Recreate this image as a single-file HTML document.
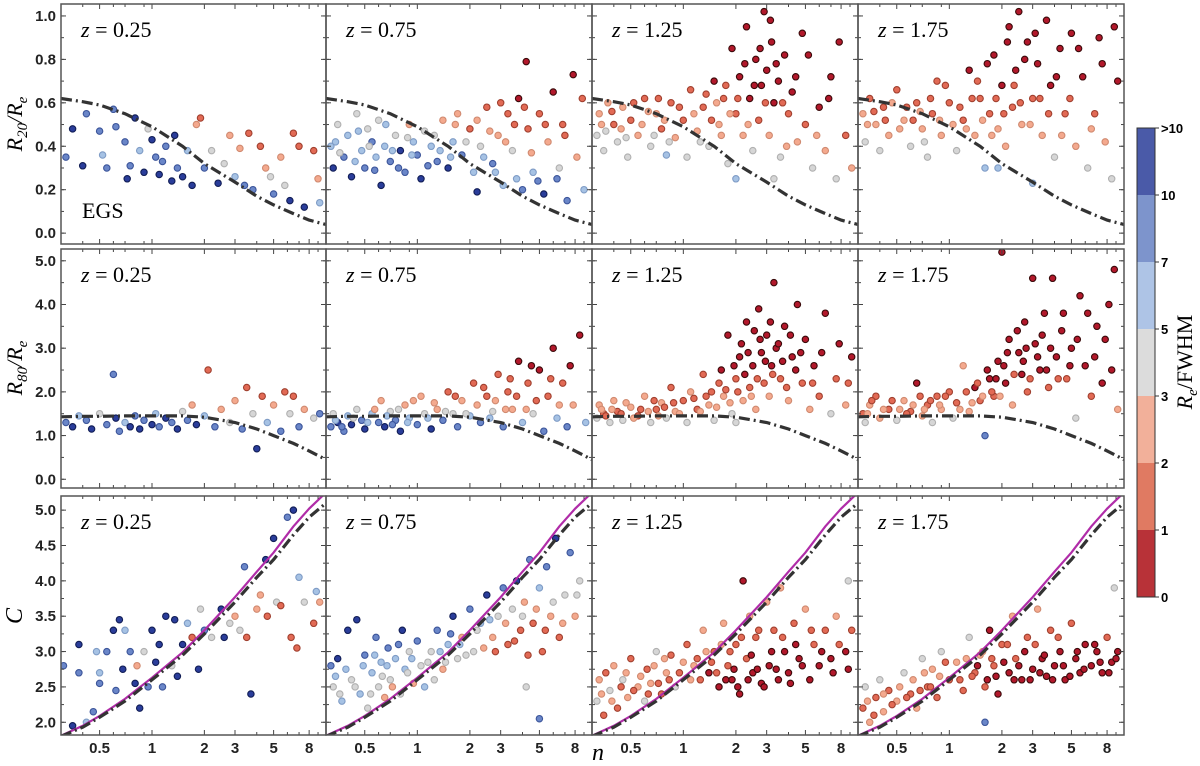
<!DOCTYPE html>
<html><head><meta charset="utf-8"><style>
body{margin:0;background:#fff;}
svg{display:block;font-family:"Liberation Sans",sans-serif;}
.tl{font-size:15px;font-weight:bold;fill:#222;}
.ser{font-family:"Liberation Serif",serif;}
</style></head><body>
<svg id="fig" width="1200" height="766" viewBox="0 0 1200 766"></svg>
<script>
const nTicks=[0.5,1,2,3,5,8];
const tickLabels=['0.5','1','2','3','5','8'];
const zLabels=['0.25','0.75','1.25','1.75'];
const rowYTicks=[[0,0.2,0.4,0.6,0.8,1.0],[0,1,2,3,4,5],[2,2.5,3,3.5,4,4.5,5]];
const rowYTickLabels=[['0.0','0.2','0.4','0.6','0.8','1.0'],['0.0','1.0','2.0','3.0','4.0','5.0'],['2.0','2.5','3.0','3.5','4.0','4.5','5.0']];
const curveN=[0.3,0.4,0.5,0.7,1,1.5,2,3,4,5,6.5,8,10];
const curveR20=[0.62,0.605,0.59,0.55,0.49,0.40,0.32,0.235,0.17,0.13,0.09,0.06,0.04];
const curveR80=[1.43,1.44,1.44,1.45,1.45,1.45,1.42,1.3,1.15,1.0,0.82,0.65,0.45];
const curveC=[1.8,1.93,2.07,2.3,2.6,2.95,3.25,3.7,4.05,4.3,4.65,4.9,5.1];
const curveCmag=[1.81,1.95,2.09,2.33,2.63,2.99,3.3,3.77,4.13,4.4,4.77,5.02,5.25];
const cbarLabels=['>10','10','7','5','3','2','1','0'];
const binColors=['#b2182b','#e26a55','#f4a98e','#d6d6d6','#a6c2e4','#6a86c8','#2a3d9a'];
const cbarColors=['#4a5aa8','#7d94cc','#aec4e6','#dcdcdc','#f2b09a','#e07a62','#b83238'];
const r1c0=[[0.32,0.35,5],[0.35,0.48,6],[0.4,0.31,6],[0.42,0.55,5],[0.5,0.47,5],[0.52,0.36,4],[0.55,0.3,5],[0.6,0.57,5],[0.62,0.49,5],[0.7,0.42,5],[0.72,0.25,6],[0.75,0.31,5],[0.8,0.53,6],[0.85,0.38,4],[0.9,0.28,6],[0.95,0.48,3],[1.0,0.43,6],[1.05,0.35,5],[1.1,0.27,6],[1.15,0.33,5],[1.2,0.4,5],[1.3,0.24,6],[1.35,0.45,6],[1.4,0.3,5],[1.5,0.26,6],[1.6,0.38,4],[1.7,0.22,6],[1.8,0.5,2],[1.9,0.53,1],[2.0,0.3,5],[2.2,0.38,3],[2.4,0.23,6],[2.6,0.32,3],[2.8,0.45,2],[3.0,0.26,4],[3.2,0.39,2],[3.4,0.22,5],[3.6,0.46,1],[3.8,0.2,5],[4.2,0.4,1],[4.5,0.3,2],[4.8,0.26,3],[5.0,0.18,5],[5.5,0.35,2],[5.8,0.22,3],[6.2,0.15,6],[6.5,0.46,1],[7.0,0.4,1],[7.5,0.12,6],[8.5,0.38,1],[9,0.25,2],[9.2,0.14,4]];
const r1c1=[[0.32,0.4,4],[0.33,0.3,6],[0.35,0.5,3],[0.38,0.35,5],[0.4,0.45,4],[0.42,0.26,6],[0.45,0.55,3],[0.48,0.38,4],[0.5,0.3,5],[0.52,0.48,3],[0.55,0.42,5],[0.58,0.35,4],[0.6,0.52,3],[0.62,0.22,6],[0.65,0.4,4],[0.7,0.33,5],[0.75,0.45,3],[0.8,0.38,6],[0.85,0.28,5],[0.9,0.5,2],[0.95,0.42,4],[1.0,0.36,5],[1.05,0.25,6],[1.1,0.47,3],[1.2,0.4,4],[1.3,0.33,5],[1.4,0.52,2],[1.5,0.3,6],[1.6,0.42,4],[1.7,0.55,2],[1.8,0.36,5],[2.0,0.48,1],[2.1,0.28,4],[2.3,0.4,3],[2.5,0.58,1],[2.7,0.32,5],[2.9,0.45,2],[3.1,0.22,4],[3.3,0.55,1],[3.5,0.38,3],[3.8,0.62,0],[4.0,0.2,5],[4.3,0.48,1],[4.6,0.28,4],[5.0,0.55,1],[5.3,0.18,6],[5.6,0.42,2],[6.0,0.65,0],[6.3,0.25,5],[6.8,0.5,1],[7.2,0.15,5],[7.8,0.73,0],[8.2,0.35,2],[9,0.2,4],[4.2,0.79,0],[2.2,0.19,6]];
const r1c1b=[[0.34,0.42,4],[0.36,0.37,3],[0.44,0.33,4],[0.46,0.47,4],[0.53,0.4,3],[0.57,0.29,5],[0.66,0.5,4],[0.72,0.38,4],[0.78,0.3,5],[0.88,0.44,3],[0.93,0.36,4],[1.15,0.31,5],[1.25,0.45,3],[1.35,0.38,4],[1.55,0.35,4],[1.65,0.5,2],[1.9,0.42,3],[2.2,0.52,2],[2.4,0.35,4],[2.6,0.47,2],[2.8,0.28,4],[3.0,0.6,1],[3.2,0.42,2],[3.6,0.5,1],[3.7,0.25,4],[4.1,0.58,1],[4.5,0.37,2],[4.9,0.24,5],[5.4,0.5,1],[6.5,0.3,3],[7,0.45,1],[8.8,0.62,1]];
const r1c2=[[0.32,0.45,3],[0.33,0.55,2],[0.35,0.38,3],[0.37,0.6,2],[0.4,0.5,1],[0.42,0.42,3],[0.45,0.58,2],[0.48,0.35,3],[0.5,0.52,1],[0.55,0.45,2],[0.6,0.62,1],[0.65,0.4,3],[0.7,0.55,2],[0.75,0.48,1],[0.8,0.36,4],[0.85,0.6,1],[0.9,0.44,2],[1.0,0.52,1],[1.05,0.35,3],[1.1,0.66,1],[1.2,0.47,2],[1.3,0.58,1],[1.4,0.4,3],[1.5,0.7,0],[1.6,0.5,2],[1.7,0.62,1],[1.8,0.32,3],[1.9,0.85,0],[2.0,0.55,1],[2.1,0.72,0],[2.2,0.45,2],[2.3,0.95,0],[2.4,0.62,0],[2.5,0.38,3],[2.6,0.8,0],[2.7,0.52,1],[2.8,0.68,0],[2.9,1.02,0],[3.0,0.75,0],[3.1,0.45,2],[3.2,0.88,0],[3.3,0.6,0],[3.5,0.7,0],[3.6,0.35,3],[3.8,0.82,0],[4.0,0.55,1],[4.2,0.65,0],[4.5,0.42,2],[4.8,0.92,0],[5.0,0.5,1],[5.5,0.3,3],[6.0,0.58,0],[6.5,0.38,2],[7.0,0.72,0],[7.5,0.25,3],[8.5,0.45,1],[9.2,0.3,2],[2.0,0.25,4],[3.3,0.25,3]];
const r1c2b=[[0.34,0.5,2],[0.36,0.47,3],[0.39,0.56,1],[0.44,0.48,2],[0.47,0.44,3],[0.52,0.6,1],[0.58,0.5,2],[0.63,0.56,2],[0.68,0.45,3],[0.72,0.62,1],[0.78,0.52,2],[0.83,0.42,3],[0.95,0.58,1],[1.15,0.55,2],[1.25,0.42,3],[1.35,0.64,1],[1.45,0.52,1],[1.55,0.6,2],[1.65,0.45,2],[1.75,0.68,1],[1.85,0.55,2],[2.05,0.62,1],[2.25,0.78,0],[2.35,0.5,2],[2.55,0.68,0],[2.75,0.85,0],[2.95,0.6,1],[3.15,0.98,0],[3.4,0.78,0],[3.7,0.6,1],[3.9,0.4,2],[4.4,0.72,0],[5.2,0.82,0],[5.8,0.45,2],[6.8,0.62,0],[7.8,0.88,0]];
const r1c3=[[0.32,0.55,2],[0.33,0.42,3],[0.35,0.62,1],[0.38,0.5,2],[0.4,0.38,3],[0.42,0.58,1],[0.45,0.45,2],[0.5,0.66,1],[0.55,0.52,2],[0.6,0.4,3],[0.65,0.6,1],[0.7,0.48,2],[0.75,0.35,3],[0.8,0.55,1],[0.85,0.7,1],[0.9,0.45,2],[1.0,0.6,1],[1.1,0.38,3],[1.2,0.52,1],[1.3,0.75,0],[1.4,0.45,2],[1.5,0.62,1],[1.6,0.3,4],[1.7,0.55,1],[1.8,0.82,0],[1.9,0.48,2],[2.0,0.68,0],[2.1,0.4,2],[2.2,0.95,0],[2.3,0.58,1],[2.4,0.75,0],[2.5,1.02,0],[2.6,0.5,2],[2.8,0.88,0],[3.0,0.62,1],[3.2,0.78,0],[3.4,0.45,2],[3.6,0.98,0],[3.8,0.68,0],[4.0,0.35,3],[4.3,0.85,0],[4.6,0.55,1],[5.0,0.92,0],[5.3,0.4,2],[5.8,0.72,0],[6.2,0.3,3],[6.8,0.55,1],[7.2,0.9,0],[7.8,0.42,2],[8.5,0.25,3],[9.2,0.7,0],[3.0,0.23,4],[1.9,0.3,4]];
const r1c3b=[[0.34,0.5,2],[0.37,0.56,1],[0.43,0.52,1],[0.47,0.6,2],[0.52,0.48,2],[0.57,0.58,1],[0.62,0.52,1],[0.68,0.56,2],[0.72,0.42,3],[0.78,0.62,1],[0.88,0.52,2],[0.95,0.68,1],[1.05,0.5,2],[1.15,0.58,1],[1.25,0.48,2],[1.35,0.62,1],[1.45,0.7,1],[1.55,0.52,2],[1.65,0.78,0],[1.75,0.45,2],[1.85,0.62,1],[2.05,0.55,1],[2.15,0.88,0],[2.35,0.68,1],[2.55,0.6,1],[2.7,0.8,0],[2.9,0.5,2],[3.1,0.92,0],[3.3,0.62,1],[3.7,0.55,1],[4.1,0.72,0],[4.4,0.45,2],[4.9,0.62,1],[5.5,0.85,0],[6.5,0.48,2],[7.5,0.78,0],[8.8,0.95,0]];
const r2c0=[[0.32,1.3,5],[0.35,1.2,6],[0.38,1.45,4],[0.42,1.35,5],[0.45,1.15,6],[0.5,1.5,3],[0.55,1.25,5],[0.6,2.4,5],[0.62,1.4,6],[0.65,1.1,5],[0.7,1.3,4],[0.75,1.2,6],[0.8,1.45,5],[0.85,1.15,6],[0.9,1.35,5],[1.0,1.25,6],[1.05,1.5,4],[1.1,1.2,5],[1.2,1.4,6],[1.3,1.3,5],[1.4,1.15,6],[1.5,1.55,3],[1.6,1.35,5],[1.7,1.7,2],[1.8,1.25,6],[2.0,1.45,4],[2.1,2.5,1],[2.3,1.2,5],[2.5,1.6,2],[2.8,1.3,3],[3.0,1.8,2],[3.3,1.15,5],[3.5,2.1,1],[3.8,1.5,3],[4.0,0.7,6],[4.3,1.9,1],[4.6,1.3,4],[5.0,1.7,2],[5.5,1.1,5],[5.8,2.0,1],[6.2,1.5,3],[6.5,1.9,1],[7.0,1.2,5],[7.5,1.6,2],[8.5,1.4,3],[9.2,1.5,5]];
const r2c1=[[0.32,1.2,5],[0.33,1.5,3],[0.35,1.3,6],[0.38,1.1,5],[0.4,1.45,4],[0.42,1.25,6],[0.45,1.6,3],[0.48,1.35,5],[0.5,1.15,6],[0.55,1.5,4],[0.6,1.3,5],[0.62,1.8,2],[0.65,1.2,6],[0.7,1.55,3],[0.75,1.35,5],[0.8,1.1,6],[0.85,1.7,2],[0.9,1.4,4],[1.0,1.25,5],[1.05,1.9,2],[1.1,1.5,3],[1.2,1.15,6],[1.3,1.6,2],[1.4,1.35,5],[1.5,2.0,1],[1.6,1.5,3],[1.7,1.2,5],[1.8,1.8,2],[2.0,1.45,4],[2.1,2.2,1],[2.3,1.3,5],[2.5,1.9,1],[2.7,1.55,3],[2.9,2.4,1],[3.1,1.2,5],[3.3,2.0,1],[3.5,1.6,2],[3.8,2.7,0],[4.0,1.3,4],[4.3,2.2,1],[4.6,1.5,3],[5.0,2.5,0],[5.3,1.1,5],[5.6,1.9,1],[6.0,3.0,0],[6.3,1.4,4],[6.8,2.2,1],[7.2,1.2,5],[7.8,1.7,2],[8.5,3.3,0],[9.2,1.3,4]];
const r2c1b=[[0.34,1.35,4],[0.37,1.2,5],[0.43,1.4,3],[0.52,1.3,4],[0.57,1.6,2],[0.67,1.45,4],[0.72,1.25,5],[0.78,1.6,3],[0.88,1.3,4],[0.95,1.8,2],[1.15,1.4,4],[1.25,1.75,2],[1.45,1.55,3],[1.65,1.9,1],[1.9,1.5,3],[2.2,1.7,2],[2.4,2.1,1],[2.6,1.4,4],[2.8,1.8,2],[3.2,1.6,2],[3.4,2.3,1],[3.7,1.9,1],[4.2,1.6,2],[4.5,2.6,0],[4.8,1.8,1],[5.8,2.3,1],[6.5,1.7,2],[7.5,2.6,0]];
const r2c2=[[0.32,1.4,3],[0.33,1.7,2],[0.35,1.5,1],[0.38,1.3,3],[0.4,1.8,2],[0.42,1.55,1],[0.45,1.35,3],[0.5,1.65,2],[0.55,1.45,1],[0.6,1.9,2],[0.65,1.3,3],[0.7,1.6,1],[0.75,1.75,2],[0.8,1.4,3],[0.85,2.1,1],[0.9,1.55,2],[1.0,1.8,1],[1.05,1.3,3],[1.1,2.0,2],[1.2,1.6,1],[1.3,2.4,1],[1.4,1.7,2],[1.5,1.35,3],[1.6,2.2,1],[1.7,1.9,2],[1.8,3.3,0],[1.9,1.5,3],[2.0,2.3,1],[2.1,2.8,0],[2.2,1.8,2],[2.3,3.6,0],[2.4,2.1,1],[2.5,2.6,0],[2.6,1.6,2],[2.7,3.9,0],[2.8,2.9,0],[2.9,2.2,1],[3.0,3.3,0],[3.1,1.9,2],[3.2,2.6,0],[3.3,4.5,0],[3.4,3.0,0],[3.6,2.3,1],[3.8,3.5,0],[4.0,1.8,2],[4.2,2.8,0],[4.5,4.0,0],[4.8,2.2,1],[5.0,3.2,0],[5.3,1.6,2],[5.6,2.6,0],[6.0,1.9,1],[6.5,3.8,0],[7.0,1.5,3],[7.5,2.3,1],[8.5,1.7,2],[9.2,2.8,0],[2.0,1.3,3]];
const r2c2b=[[0.34,1.6,2],[0.36,1.45,1],[0.39,1.6,2],[0.44,1.5,1],[0.47,1.75,2],[0.52,1.4,2],[0.57,1.6,1],[0.63,1.55,2],[0.68,1.8,1],[0.72,1.45,2],[0.78,1.65,1],[0.88,1.75,1],[0.95,1.5,2],[1.15,1.85,1],[1.25,1.55,2],[1.35,1.9,1],[1.45,2.0,1],[1.55,1.65,2],[1.65,2.5,0],[1.75,2.05,1],[1.85,1.75,2],[1.95,2.6,0],[2.05,2.0,1],[2.15,3.1,0],[2.25,2.4,0],[2.35,2.9,0],[2.45,1.9,2],[2.55,3.4,0],[2.65,2.3,1],[2.75,3.2,0],[2.95,2.7,0],[3.15,3.6,0],[3.25,2.4,1],[3.5,3.1,0],[3.7,2.7,0],[3.9,2.1,1],[4.1,3.3,0],[4.4,2.5,0],[4.7,2.9,0],[5.5,2.2,1],[6.2,2.9,0],[7.8,3.1,0],[8.8,2.2,1]];
const r2c3=[[0.32,1.5,1],[0.33,1.3,3],[0.35,1.7,2],[0.38,1.9,1],[0.4,1.4,2],[0.45,1.6,1],[0.5,1.35,3],[0.55,1.8,2],[0.6,1.55,1],[0.65,2.2,0],[0.7,1.45,2],[0.75,1.7,1],[0.8,1.3,3],[0.85,1.9,1],[0.9,1.6,2],[1.0,2.0,1],[1.05,1.4,3],[1.1,1.75,1],[1.2,2.6,2],[1.3,1.55,2],[1.4,2.1,0],[1.5,1.8,1],[1.6,1.0,5],[1.7,2.3,0],[1.8,1.9,1],[1.9,2.7,0],[2.0,5.2,0],[2.1,2.2,0],[2.2,3.2,0],[2.3,1.7,2],[2.5,2.9,0],[2.6,2.4,0],[2.7,3.6,0],[2.8,2.0,1],[3.0,4.6,0],[3.1,3.1,0],[3.3,2.5,0],[3.5,3.8,0],[3.7,2.1,1],[3.9,4.6,0],[4.1,2.8,0],[4.4,3.4,0],[4.7,2.3,1],[5.0,3.0,0],[5.3,1.4,3],[5.6,4.2,0],[6.0,2.6,0],[6.5,1.9,1],[7.0,3.5,0],[7.5,2.2,0],[8.2,4.0,0],[8.8,4.8,0],[9.2,1.6,2]];
const r2c3b=[[0.34,1.5,2],[0.36,1.8,1],[0.42,1.6,2],[0.47,1.8,1],[0.52,1.6,2],[0.57,1.5,1],[0.62,1.7,2],[0.68,1.9,1],[0.72,1.6,2],[0.78,1.8,1],[0.88,1.7,2],[0.95,1.9,1],[1.15,1.6,2],[1.25,2.0,1],[1.35,1.75,2],[1.45,2.2,1],[1.55,1.9,2],[1.65,2.5,0],[1.75,2.0,1],[1.85,2.3,0],[1.95,1.9,2],[2.05,2.6,0],[2.15,2.9,0],[2.35,2.4,1],[2.45,3.4,0],[2.65,2.7,0],[2.75,3.0,0],[2.9,2.3,1],[3.2,2.8,0],[3.4,3.3,0],[3.6,2.5,0],[3.8,3.0,0],[4.2,2.3,1],[4.5,3.8,0],[4.9,2.6,0],[5.4,3.2,0],[6.2,3.8,0],[6.8,2.8,0],[7.8,3.2,0],[8.5,2.5,0]];
const r3c0=[[0.31,2.8,5],[0.35,1.95,6],[0.38,3.1,6],[0.38,2.7,5],[0.42,2.0,4],[0.46,2.15,5],[0.48,3.0,4],[0.5,2.7,4],[0.5,2.55,5],[0.55,3.0,5],[0.6,3.3,6],[0.62,2.45,5],[0.65,3.45,6],[0.68,2.75,6],[0.7,3.3,4],[0.75,3.0,5],[0.8,2.55,6],[0.82,2.8,2],[0.85,2.2,6],[0.9,3.0,3],[0.95,2.5,5],[1.0,3.3,6],[1.05,2.85,6],[1.1,3.1,6],[1.15,2.5,5],[1.2,3.5,6],[1.3,2.8,3],[1.35,3.45,6],[1.4,2.65,6],[1.5,3.1,6],[1.6,3.4,4],[1.7,3.2,1],[1.85,2.75,6],[1.9,3.6,3],[2.0,3.3,5],[2.2,3.2,3],[2.5,3.6,6],[2.6,3.2,6],[2.8,3.4,3],[3.0,3.5,2],[3.2,3.3,3],[3.4,4.2,5],[3.5,3.2,1],[3.7,2.4,6],[4.0,3.6,2],[4.2,3.8,2],[4.5,4.3,6],[4.6,3.5,1],[5.0,4.6,6],[5.2,3.7,3],[5.5,3.65,1],[6.0,4.9,5],[6.3,3.2,1],[6.5,5.0,6],[6.8,3.05,1],[7.0,4.05,4],[7.5,3.7,3],[8.5,3.4,1],[8.8,3.85,4],[9.2,3.7,2]];
const r3c1=[[0.32,2.8,5],[0.33,2.5,3],[0.35,2.9,6],[0.37,2.3,4],[0.4,3.3,6],[0.42,2.6,3],[0.45,3.45,6],[0.47,2.4,4],[0.5,2.95,5],[0.52,2.2,3],[0.55,2.7,4],[0.58,3.2,5],[0.6,2.5,3],[0.62,2.85,4],[0.65,2.35,2],[0.68,3.05,5],[0.7,2.6,3],[0.75,2.9,4],[0.8,2.4,3],[0.82,3.3,6],[0.85,2.75,4],[0.9,3.0,3],[0.95,2.55,2],[1.0,3.15,5],[1.05,2.8,3],[1.1,2.5,4],[1.2,3.0,3],[1.3,3.3,5],[1.4,2.75,2],[1.5,3.1,4],[1.6,3.5,6],[1.7,2.9,3],[1.8,3.2,2],[2.0,3.6,5],[2.1,3.0,3],[2.3,3.4,4],[2.5,3.8,6],[2.7,3.2,2],[2.9,3.5,3],[3.1,3.9,5],[3.3,3.1,1],[3.5,3.6,3],[3.7,4.0,6],[3.9,3.3,1],[4.1,3.7,2],[4.4,4.3,5],[4.6,3.4,1],[5.0,3.9,4],[5.2,3.0,1],[5.5,4.2,5],[5.8,3.5,2],[6.2,4.6,6],[6.5,3.2,1],[7.0,3.8,3],[7.5,4.4,5],[8.0,3.5,2],[8.5,4.0,3],[5.0,2.05,5],[4.2,2.5,3]];
const r3c1b=[[0.34,2.65,4],[0.36,2.4,3],[0.39,2.75,4],[0.44,2.5,3],[0.49,2.8,4],[0.54,2.4,3],[0.57,2.95,4],[0.63,2.65,3],[0.67,2.8,4],[0.72,2.5,2],[0.78,3.1,5],[0.88,2.7,3],[0.93,2.9,4],[1.15,2.85,3],[1.25,2.6,3],[1.35,3.0,4],[1.45,2.85,3],[1.55,3.25,5],[1.75,3.1,4],[1.9,2.95,3],[2.2,3.3,3],[2.4,3.05,2],[2.6,3.45,4],[2.8,3.0,1],[3.2,3.4,2],[3.6,3.15,1],[4.0,3.5,3],[4.3,2.95,1],[4.8,3.6,2],[5.4,3.3,1],[6.0,3.7,3],[6.8,3.4,2],[8.2,3.8,3]];
const r3c2=[[0.32,2.3,3],[0.33,2.6,2],[0.35,2.1,1],[0.38,2.45,3],[0.4,2.8,2],[0.42,2.2,1],[0.45,2.6,3],[0.48,2.35,2],[0.5,2.9,1],[0.55,2.5,2],[0.6,2.3,3],[0.62,2.75,1],[0.65,2.55,2],[0.7,3.0,3],[0.75,2.4,1],[0.8,2.7,2],[0.85,2.95,1],[0.9,2.5,3],[1.0,2.85,2],[1.05,3.1,1],[1.1,2.6,2],[1.2,2.9,1],[1.3,3.3,2],[1.4,2.7,0],[1.5,3.0,1],[1.6,2.5,0],[1.7,3.4,2],[1.8,2.8,1],[1.9,2.6,0],[2.0,3.1,1],[2.1,2.4,0],[2.2,4.0,0],[2.3,2.9,1],[2.4,3.5,2],[2.5,2.7,0],[2.6,3.2,1],[2.8,2.55,0],[3.0,3.7,2],[3.1,2.8,0],[3.3,3.3,1],[3.5,2.6,0],[3.6,3.9,2],[3.8,3.0,0],[4.0,2.7,0],[4.3,3.4,1],[4.6,2.9,0],[5.0,3.6,2],[5.3,2.6,0],[5.6,3.1,1],[6.0,2.8,0],[6.5,3.3,1],[7.0,2.9,0],[7.5,3.5,2],[8.5,3.0,0],[9.2,3.3,1],[8.8,4.0,3]];
const r3c2b=[[0.34,2.4,2],[0.36,2.7,1],[0.39,2.3,2],[0.44,2.5,1],[0.47,2.7,2],[0.52,2.45,1],[0.57,2.65,2],[0.63,2.4,1],[0.68,2.8,2],[0.72,2.55,1],[0.78,2.9,2],[0.83,2.6,1],[0.95,2.7,1],[1.15,2.8,2],[1.25,2.6,1],[1.35,3.0,2],[1.45,2.85,1],[1.55,2.7,1],[1.65,3.1,2],[1.75,2.6,0],[1.85,3.0,1],[1.95,2.75,0],[2.05,2.5,0],[2.15,3.2,1],[2.35,2.6,0],[2.45,2.95,0],[2.65,2.75,0],[2.7,3.3,1],[2.9,2.5,0],[3.2,3.0,0],[3.4,2.75,0],[3.7,3.2,1],[4.1,2.55,0],[4.4,3.1,0],[4.8,2.8,0],[5.4,3.3,1],[6.2,3.0,0],[7.2,2.7,0],[7.8,3.1,1],[8.8,2.75,0]];
const r3c3=[[0.32,2.2,1],[0.33,2.5,3],[0.35,2.0,2],[0.38,2.35,1],[0.4,2.6,3],[0.42,2.15,2],[0.45,2.45,1],[0.5,2.3,2],[0.55,2.7,3],[0.6,2.4,1],[0.65,2.2,2],[0.7,2.9,3],[0.75,2.5,1],[0.8,2.75,2],[0.85,2.35,1],[0.9,3.0,3],[1.0,2.6,1],[1.1,2.85,2],[1.2,2.45,1],[1.3,3.2,3],[1.4,2.7,1],[1.5,2.95,2],[1.6,2.5,1],[1.7,3.3,0],[1.8,2.8,1],[1.9,2.4,0],[2.0,3.1,1],[2.2,2.7,0],[2.3,3.5,2],[2.4,2.9,1],[2.6,2.6,0],[2.8,3.2,1],[3.0,2.75,0],[3.2,3.6,2],[3.4,2.9,0],[3.6,2.65,0],[3.8,3.3,1],[4.0,2.8,0],[4.3,3.0,0],[4.6,2.6,0],[5.0,3.4,1],[5.3,2.9,0],[5.6,2.7,0],[6.0,3.1,0],[6.5,2.8,0],[7.0,3.0,0],[7.5,2.7,0],[8.0,3.2,1],[8.5,2.85,0],[9.2,3.0,0],[8.8,3.9,3],[1.6,2.0,5]];
const r3c3b=[[0.34,2.3,2],[0.37,2.1,1],[0.42,2.4,2],[0.47,2.25,1],[0.52,2.5,2],[0.57,2.35,1],[0.62,2.6,2],[0.68,2.45,1],[0.72,2.7,2],[0.78,2.5,1],[0.88,2.65,2],[0.95,2.85,1],[1.15,2.6,1],[1.25,2.9,2],[1.35,2.65,1],[1.45,2.8,0],[1.55,3.0,2],[1.65,2.6,0],[1.75,2.9,1],[1.85,2.65,0],[2.05,2.85,0],[2.15,3.1,1],[2.35,2.6,0],[2.5,2.8,0],[2.7,3.0,0],[2.9,2.6,0],[3.1,3.1,1],[3.3,2.7,0],[3.5,2.95,0],[3.9,2.6,0],[4.2,3.2,1],[4.5,2.8,0],[4.9,2.65,0],[5.4,3.0,0],[5.9,2.75,0],[6.8,3.1,0],[7.3,2.85,0],[8.2,2.7,0],[9,2.9,0]];
const panelData=[[r1c0,r1c1.concat(r1c1b),r1c2.concat(r1c2b),r1c3.concat(r1c3b)],[r2c0,r2c1.concat(r2c1b),r2c2.concat(r2c2b),r2c3.concat(r2c3b)],[r3c0,r3c1.concat(r3c1b),r3c2.concat(r3c2b),r3c3.concat(r3c3b)]];

const NS='http://www.w3.org/2000/svg';
const svg=document.getElementById('fig');
function mk(tag,attrs,parent){const e=document.createElementNS(NS,tag);for(const k in attrs)e.setAttribute(k,attrs[k]);(parent||svg).appendChild(e);return e;}
const colX=[61,326,592,858,1124];
const rowY=[[4,244],[249,488],[496,735]];
const yDom=[[-0.05,1.055],[-0.2,5.27],[1.82,5.2]];
const xMin=Math.log10(0.3),xMax=Math.log10(10);
function xs(c,n){return colX[c]+(Math.log10(n)-xMin)/(xMax-xMin)*(colX[c+1]-colX[c]);}
function ys(r,v){const [t,b]=rowY[r],[lo,hi]=yDom[r];return b-(v-lo)/(hi-lo)*(b-t);}
const darkEdge=['#3a0a0a','#a0402f','#d08a70','#b0b0b0','#7f9cc6','#3c559a','#111d55'];
const minorN=[0.3,0.4,0.6,0.7,0.9,4,6,7,9];
const yMinorStep=[0.1,0.5,0.25];

for(let r=0;r<3;r++){
  for(let c=0;c<4;c++){
    const g=mk('g',{});
    
    
    const L=colX[c],R=colX[c+1],T=rowY[r][0],B=rowY[r][1];
    const cid='clip'+r+c;
    const cp=mk('clipPath',{id:cid},g);mk('rect',{x:L,y:T,width:R-L,height:B-T},cp);
    const pts=mk('g',{'clip-path':'url(#'+cid+')'},g);
    
    
    panelData[r][c].forEach(p=>{
      const ci=mk('circle',{cx:xs(c,p[0]).toFixed(1),cy:ys(r,p[1]).toFixed(1),r:3.2,fill:binColors[p[2]],stroke:darkEdge[p[2]],'stroke-width':1.1},pts);
      
      
    });
    const curve=[curveR20,curveR80,curveC][r];
    const d=curveN.map((n,i)=>(i?'L':'M')+xs(c,n).toFixed(1)+','+ys(r,curve[i]).toFixed(1)).join(' ');
    if(r===2){
      const dm=curveN.map((n,i)=>(i?'L':'M')+xs(c,n).toFixed(1)+','+ys(r,curveCmag[i]).toFixed(1)).join(' ');
      const m=mk('path',{d:dm,fill:'none',stroke:'#b02ca8','stroke-width':2.2},pts);
      
      
    }
    const ln=mk('path',{d:d,fill:'none',stroke:'#333','stroke-width':3.2,'stroke-dasharray':'11,4,2,4'},pts);
    
    
    const tk=mk('g',{stroke:'#444','stroke-width':1},g);
    nTicks.forEach(n=>{const x=xs(c,n);mk('line',{x1:x,y1:B,x2:x,y2:B-5},tk);mk('line',{x1:x,y1:T,x2:x,y2:T+5},tk);});
    minorN.forEach(n=>{const x=xs(c,n);mk('line',{x1:x,y1:B,x2:x,y2:B-3},tk);mk('line',{x1:x,y1:T,x2:x,y2:T+3},tk);});
    const [lo,hi]=yDom[r];
    for(let v=Math.ceil(lo/yMinorStep[r])*yMinorStep[r];v<=hi;v+=yMinorStep[r]){const y=ys(r,v);mk('line',{x1:L,y1:y,x2:L+3,y2:y},tk);mk('line',{x1:R,y1:y,x2:R-3,y2:y},tk);}
    rowYTicks[r].forEach(v=>{const y=ys(r,v);mk('line',{x1:L,y1:y,x2:L+5,y2:y},tk);mk('line',{x1:R,y1:y,x2:R-5,y2:y},tk);});
    const fr=mk('rect',{x:L,y:T,width:R-L,height:B-T,fill:'none',stroke:'#555','stroke-width':1.5},g);
    
    
    const zt=mk('text',{x:L+20,y:T+33,'font-size':22,class:'ser'},g);
    zt.innerHTML='<tspan font-style="italic">z</tspan> = '+zLabels[c];
    
    
    if(c===0){
      rowYTicks[r].forEach((v,i)=>{const t=mk('text',{x:L-5,y:ys(r,v)+5,'text-anchor':'end',class:'tl'},g);t.textContent=rowYTickLabels[r][i];
        
        });
    }
    if(r===2){
      nTicks.forEach((n,i)=>{const t=mk('text',{x:xs(c,n),y:B+18,'text-anchor':'middle',class:'tl'},g);t.textContent=tickLabels[i];
        
        });
    }
  }
}
</script>
<svg style="position:absolute;left:0;top:0" width="1200" height="766">
<text x="82" y="218" font-family="Liberation Serif,serif" font-size="22">EGS</text>
<text transform="translate(22,124) rotate(-90)" text-anchor="middle" font-family="Liberation Serif,serif" font-size="22" font-style="italic">R<tspan font-size="15" dy="5">20</tspan><tspan dy="-5">/R</tspan><tspan font-size="15" dy="5">e</tspan></text>
<text transform="translate(22,368) rotate(-90)" text-anchor="middle" font-family="Liberation Serif,serif" font-size="22" font-style="italic">R<tspan font-size="15" dy="5">80</tspan><tspan dy="-5">/R</tspan><tspan font-size="15" dy="5">e</tspan></text>
<text transform="translate(22,616) rotate(-90)" text-anchor="middle" font-family="Liberation Serif,serif" font-size="24" font-style="italic">C</text>
<text x="598" y="760" text-anchor="middle" font-family="Liberation Serif,serif" font-size="24" font-style="italic">n</text>
<g id="cbar"></g>
<text transform="translate(1192,362) rotate(-90)" text-anchor="middle" font-family="Liberation Serif,serif" font-size="22"><tspan font-style="italic">R</tspan><tspan font-size="15" font-style="italic" dy="5">e</tspan><tspan dy="-5">/FWHM</tspan></text>
</svg>
<script>
(function(){
const cb=document.getElementById('cbar');
const top=128,bot=597,x=1137,w=18,h=(bot-top)/cbarColors.length;
cbarColors.forEach((col,i)=>{const r=document.createElementNS(NS,'rect');
r.setAttribute('x',x);r.setAttribute('y',top+i*h);r.setAttribute('width',w);r.setAttribute('height',h+0.5);r.setAttribute('fill',col);


cb.appendChild(r);});
const fr=document.createElementNS(NS,'rect');fr.setAttribute('x',x);fr.setAttribute('y',top);fr.setAttribute('width',w);fr.setAttribute('height',bot-top);fr.setAttribute('fill','none');fr.setAttribute('stroke','#333');cb.appendChild(fr);
cbarLabels.forEach((l,i)=>{const y=top+i*h;
const tl=document.createElementNS(NS,'line');tl.setAttribute('x1',x+w);tl.setAttribute('x2',x+w+4);tl.setAttribute('y1',y);tl.setAttribute('y2',y);tl.setAttribute('stroke','#333');cb.appendChild(tl);
const t=document.createElementNS(NS,'text');t.setAttribute('x',x+w+6);t.setAttribute('y',y+5);t.setAttribute('font-size','13');t.setAttribute('font-weight','bold');t.setAttribute('font-family','Liberation Sans,sans-serif');t.textContent=l;


cb.appendChild(t);});
})();
</script>
</body></html>
